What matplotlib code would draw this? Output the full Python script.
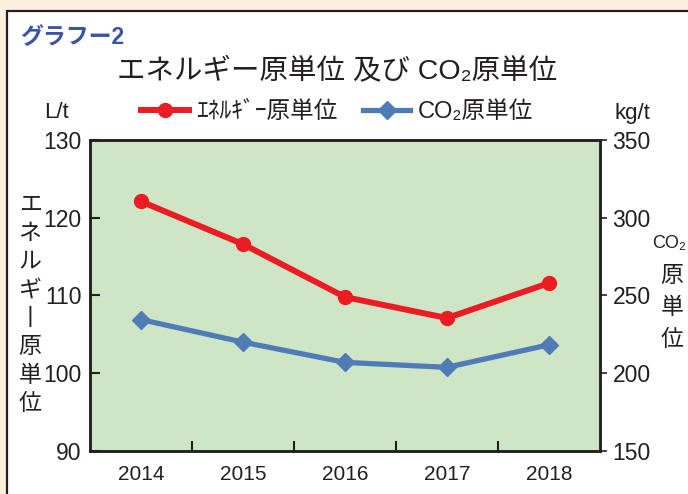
import matplotlib
matplotlib.use("Agg")
import matplotlib.pyplot as plt
from matplotlib.lines import Line2D
from matplotlib.patches import Rectangle
from matplotlib.ticker import FixedLocator

plt.rcParams["font.family"] = ["Liberation Sans", "Noto Sans CJK JP", "DejaVu Sans"]

years = ["2014", "2015", "2016", "2017", "2018"]
energy = [122.1, 116.6, 109.8, 107.1, 111.6]   # L/t
co2 = [234.5, 220.0, 207.0, 203.8, 218.3]      # kg/t

TXT = "#231f20"
RED = "#ec1c24"
BLUE = "#4f7bb7"

W, H = 688, 494
fig = plt.figure(figsize=(W / 100, H / 100), dpi=100)
fig.patch.set_facecolor("#fdefdf")


def fx(px):
    return px / W


def fy(py):
    return 1 - py / H


# white panel with frame
fig.patches.append(Rectangle((fx(7), -0.2), 1.2, fy(11) + 0.2, transform=fig.transFigure,
                             facecolor="white", edgecolor=TXT, lw=1.6, zorder=-10))

ax = fig.add_axes([fx(90), fy(451), fx(600) - fx(90), fy(140) - fy(451)])
ax.set_facecolor("#cfe6c6")
ax2 = ax.twinx()

x = range(len(years))
ax.plot(x, energy, color=RED, lw=4.3, marker="o", ms=10, zorder=3)
ax2.plot(x, co2, color=BLUE, lw=3.8, marker="D", ms=9.5, zorder=3)

ax.set_xlim(-0.5, len(years) - 0.5)
ax.set_ylim(90, 130)
ax2.set_ylim(150, 350)
ax.set_yticks([90, 100, 110, 120, 130])
ax2.set_yticks([150, 200, 250, 300, 350])
ax.set_xticks(list(x))
ax.set_xticklabels(years)
ax.xaxis.set_minor_locator(FixedLocator([0.5, 1.5, 2.5, 3.5]))

for a in (ax, ax2):
    for s in a.spines.values():
        s.set_linewidth(1.8)
        s.set_color(TXT)

ax.tick_params(axis="y", direction="in", length=7, width=1.5, pad=6,
               labelsize=16.5, colors=TXT)
ax.tick_params(axis="x", which="major", length=0, pad=10, labelsize=15, colors=TXT)
ax.tick_params(axis="x", which="minor", direction="in", length=7, width=1.5, color=TXT)
ax2.tick_params(axis="y", direction="out", length=5, width=1.2, pad=4,
                labelsize=16.5, colors=TXT)

# titles
fig.text(fx(20), fy(38), "グラフー2", color="#3a53a4", fontsize=16.5, fontweight="bold",
         ha="left", va="center")
fig.text(fx(337), fy(72), "エネルギー原単位 及び CO₂原単位", color=TXT, fontsize=20.5,
         ha="center", va="center")

# legend
handles = [
    Line2D([], [], color=RED, lw=4.3, marker="o", ms=10),
    Line2D([], [], color=BLUE, lw=3.8, marker="D", ms=9.5),
]
fig.legend(handles, ["ｴﾈﾙｷﾞｰ原単位", "CO₂原単位"], loc="center",
           bbox_to_anchor=(fx(337), fy(112)), ncol=2, frameon=False,
           fontsize=17, handlelength=2.0, handletextpad=0.3, columnspacing=1.1,
           labelcolor=TXT)

# units
fig.text(fx(57), fy(113), "L/t", color=TXT, fontsize=16, ha="center", va="center")
fig.text(fx(632), fy(113), "kg/t", color=TXT, fontsize=16, ha="center", va="center")

# axis labels (vertical writing)
left_label = "\n".join(["エ", "ネ", "ル", "ギ", "丨", "原", "単", "位"])
fig.text(fx(30), fy(304), left_label, color=TXT, fontsize=16.5, ha="center", va="center",
         linespacing=1.3)
fig.text(fx(686), fy(243), "CO₂", color=TXT, fontsize=13, ha="right", va="center")
fig.text(fx(672), fy(308), "原\n単\n位", color=TXT, fontsize=16.5, ha="center", va="center",
         linespacing=1.5)

fig.savefig("out.png", dpi=100, facecolor=fig.get_facecolor())
